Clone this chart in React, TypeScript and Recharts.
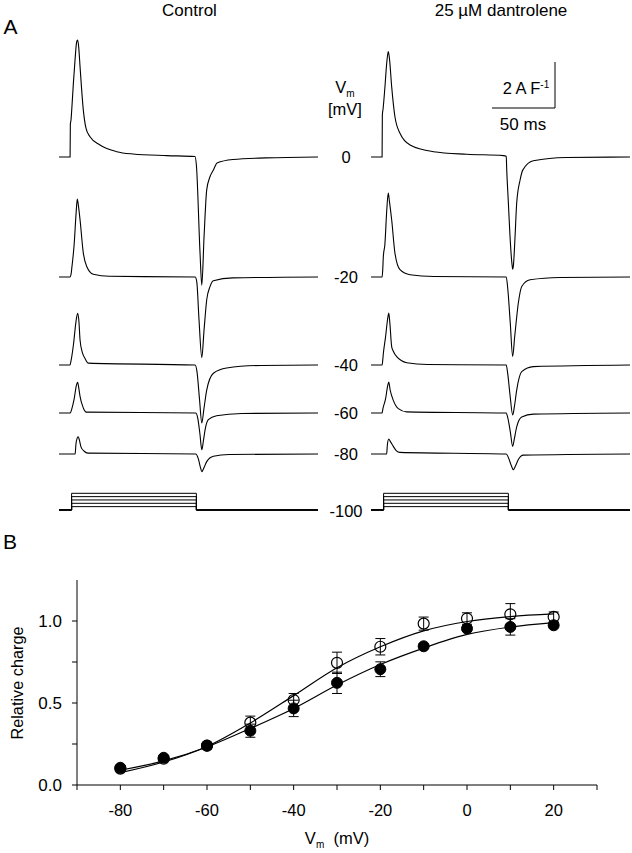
import React from 'react';
import { LineChart, Line, XAxis, YAxis, ReferenceLine, ComposedChart, Scatter, ErrorBar } from 'recharts';

// ---- Panel A: charge-movement currents (time in ms, current in A/F) ----
const STEP_POTENTIALS = [0, -20, -40, -60, -80];
const HOLDING_MV = -100;
const PULSE_ON_MS = 10;
const PULSE_OFF_MS = 109;
const SWEEP_END_MS = 205.5;

const CONTROL_TRACES: Record<number, number[][]> = {
  0: [[0, 0], [8.8, 0], [9.0, 1.43], [9.5, 1.6], [10.1, 2.04], [11.4, 3.2], [12.7, 4.2], [14.0, 5.0], [14.8, 5.09], [15.6, 4.8], [16.7, 3.93], [19.3, 2.04], [21.4, 1.26], [24.6, 0.88], [32.5, 0.52], [45.8, 0.23], [58.7, 0.13], [85.5, 0.06], [107.9, 0.02], [109, -0.35], [111.9, -4.17], [113.3, -5.57], [115.1, -3.46], [117.2, -1.43], [119.8, -0.86], [122.5, -0.57], [125.4, -0.26], [138, -0.11], [164, -0.04], [205.5, 0]],
  [-20]: [[0, 0], [8.7, 0], [9.5, 0.1], [10.3, 0.46], [12, 1.4], [13.6, 2.8], [14.5, 3.39], [15.4, 3.1], [16.7, 2.49], [19.3, 1.04], [22, 0.46], [27.2, 0.12], [40, 0.03], [108, 0], [109.3, -0.2], [111.1, -1.87], [113.3, -3.5], [115.1, -2.3], [117.2, -0.99], [119.8, -0.42], [122.5, -0.16], [138, -0.04], [205.5, 0]],
  [-40]: [[0, 0], [8.7, 0], [9.6, 0.2], [11.5, 0.9], [13.5, 1.9], [14.8, 2.25], [15.8, 1.9], [16.7, 1.09], [18.5, 0.55], [20.6, 0.29], [23.3, 0.08], [108, 0], [109.5, -0.3], [111.5, -1.5], [113.3, -2.52], [115, -1.9], [117.2, -1.09], [122.5, -0.36], [133, -0.13], [160, -0.02], [205.5, 0]],
  [-60]: [[0, 0], [8.9, 0], [10, 0.15], [12, 0.6], [13.8, 1.2], [14.8, 1.33], [15.8, 1.05], [16.7, 0.72], [19.3, 0.22], [21.6, 0.04], [108.5, 0], [110, -0.2], [111.8, -0.9], [113.3, -1.6], [114.6, -1.2], [115.9, -0.73], [118.5, -0.29], [125, -0.12], [145, -0.02], [205.5, 0]],
  [-80]: [[0, 0], [12.8, 0], [13.4, 0.4], [14.5, 0.7], [15.3, 0.75], [16.2, 0.6], [17.5, 0.3], [20, 0.12], [23, 0.04], [108.5, 0], [110.5, -0.2], [112.3, -0.6], [113.3, -0.77], [115, -0.6], [117.2, -0.33], [122.5, -0.1], [135, -0.02], [205.5, 0]],
};

const DANTROLENE_TRACES: Record<number, number[][]> = {
  0: [[0, 0], [8.8, 0], [9.0, 1.83], [9.6, 2.1], [11, 3.0], [12.5, 4.1], [13.7, 4.58], [14.6, 4.3], [16.4, 3.06], [19, 1.75], [23, 1.03], [31, 0.52], [49.5, 0.23], [76, 0.12], [105, 0.06], [107.3, 0.03], [107.7, -0.56], [109, -2.0], [110.3, -3.46], [112.1, -4.77], [112.4, -4.88], [112.9, -4.77], [114.3, -3.46], [115.6, -2.0], [118.3, -1.0], [120.4, -0.57], [128.8, -0.16], [155, -0.02], [205.5, 0]],
  [-20]: [[0, 0], [8.8, 0], [9.3, 0.3], [9.8, 0.9], [11, 1.4], [12.5, 2.9], [13.7, 3.65], [14.6, 3.3], [16.4, 2.49], [19, 1.04], [23, 0.32], [31, 0.1], [50, 0.02], [107.3, 0], [108.5, -0.5], [110.5, -2.0], [112.4, -3.45], [114, -2.6], [116.9, -1.13], [119.6, -0.41], [126.2, -0.12], [150, -0.02], [205.5, 0]],
  [-40]: [[0, 0], [8.8, 0], [9.3, 0.2], [9.8, 0.5], [11.5, 1.2], [13.2, 2.0], [14.1, 2.26], [15, 1.8], [16.4, 0.8], [17.7, 0.6], [20.4, 0.36], [28.3, 0.1], [45, 0.02], [107.3, 0], [108.3, -0.3], [110.3, -1.3], [112.4, -2.17], [113.8, -1.8], [115.6, -1.09], [119.6, -0.29], [128.8, -0.07], [205.5, 0]],
  [-60]: [[0, 0], [8.8, 0], [9.5, 0.2], [11.5, 0.6], [13.3, 1.2], [14.1, 1.35], [15.2, 1.0], [17.7, 0.55], [21.7, 0.19], [28.3, 0.05], [107.3, 0], [108.5, -0.2], [110.5, -0.8], [112.4, -1.45], [113.8, -1.1], [115.6, -0.6], [119.6, -0.17], [128.8, -0.05], [205.5, 0]],
  [-80]: [[0, 0], [12.4, 0], [13.0, 0.4], [14.1, 0.65], [15.3, 0.55], [17.7, 0.33], [20, 0.15], [23, 0.07], [107.3, 0], [109, -0.15], [111.3, -0.5], [112.9, -0.68], [114.8, -0.5], [116.9, -0.24], [120.9, -0.05], [205.5, 0]],
};

const SCALE_BAR_MS = 50;
const SCALE_BAR_AF = 2;

// ---- Panel B: relative charge vs Vm ----
const VM = [-80, -70, -60, -50, -40, -30, -20, -10, 0, 10, 20];
const OPEN_Q = [0.1, 0.16, 0.24, 0.38, 0.518, 0.745, 0.843, 0.984, 1.015, 1.041, 1.025];
const OPEN_SEM = [0.01, 0.01, 0.02, 0.04, 0.04, 0.065, 0.05, 0.04, 0.035, 0.065, 0.03];
const FILLED_Q = [0.105, 0.166, 0.24, 0.331, 0.467, 0.623, 0.706, 0.846, 0.954, 0.964, 0.974];
const FILLED_SEM = [0.01, 0.01, 0.015, 0.04, 0.05, 0.065, 0.045, 0.015, 0.015, 0.05, 0.015];
const OPEN_FIT = [0.075, 0.14, 0.235, 0.378, 0.545, 0.715, 0.843, 0.94, 0.997, 1.027, 1.043];
const FILLED_FIT = [0.09, 0.147, 0.232, 0.345, 0.467, 0.61, 0.735, 0.835, 0.918, 0.963, 0.99];

// ---- layout ----
const FONT = '"Liberation Sans", Arial, Helvetica, sans-serif';
const A_H = 530;
const COL_W = 259;
const PX_PER_AF = 23;
const PX_PER_MV = 0.1667;
const BASELINE_PX: Record<number, number> = { 0: 157, [-20]: 277, [-40]: 365, [-60]: 413, [-80]: 454 };
const CMD_ZERO_PX = 493.3;

const traceDomain = (b: number) => [-(A_H - b) / PX_PER_AF, b / PX_PER_AF];
const cmdDomain = [-(A_H - CMD_ZERO_PX) / PX_PER_MV, CMD_ZERO_PX / PX_PER_MV];
const toPoints = (pairs: number[][]) => pairs.map(([t, i]) => ({ t, i }));
const protocol = (v: number) => [
  { t: 0, mv: HOLDING_MV },
  { t: PULSE_ON_MS, mv: HOLDING_MV },
  { t: PULSE_ON_MS, mv: v },
  { t: PULSE_OFF_MS, mv: v },
  { t: PULSE_OFF_MS, mv: HOLDING_MV },
  { t: SWEEP_END_MS, mv: HOLDING_MV },
];

const Txt = ({ x, y, size = 16, children, rotate = 0 }: any) => (
  <div
    style={{
      position: 'absolute', left: x, top: y, fontSize: `${size}px`, lineHeight: 1, fontFamily: FONT,
      whiteSpace: 'nowrap', color: '#000',
      transform: `translate(-50%, -50%) rotate(${rotate}deg)`,
    }}
  >
    {children}
  </div>
);

const TraceColumn = ({ left, traces, scaleBar }: { left: number; traces: Record<number, number[][]>; scaleBar?: boolean }) => {
  const barT = 146;
  const barY = 2.13;
  return (
    <div style={{ position: 'absolute', left, top: 0 }}>
      <LineChart width={COL_W} height={A_H} margin={{ top: 0, right: 0, bottom: 0, left: 0 }}>
        <XAxis type="number" dataKey="t" domain={[0, SWEEP_END_MS]} hide allowDataOverflow />
        {STEP_POTENTIALS.map((v) => (
          <YAxis key={v} yAxisId={`v${v}`} type="number" domain={traceDomain(BASELINE_PX[v])} hide allowDataOverflow />
        ))}
        <YAxis yAxisId="cmd" type="number" domain={cmdDomain} hide allowDataOverflow />
        {STEP_POTENTIALS.map((v) => (
          <Line
            key={`p${v}`}
            yAxisId="cmd"
            data={protocol(v)}
            dataKey="mv"
            type="linear"
            stroke="#000"
            strokeWidth={1}
            dot={false}
            activeDot={false}
            isAnimationActive={false}
          />
        ))}
        {STEP_POTENTIALS.map((v) => (
          <Line
            key={v}
            yAxisId={`v${v}`}
            data={toPoints(traces[v])}
            dataKey="i"
            type="monotone"
            stroke="#000"
            strokeWidth={1.1}
            dot={false}
            activeDot={false}
            isAnimationActive={false}
          />
        ))}
        {scaleBar && (
          <ReferenceLine
            yAxisId="v0"
            segment={[{ x: barT - SCALE_BAR_MS, y: barY }, { x: barT, y: barY }]}
            stroke="#000"
            strokeWidth={1}
            ifOverflow="visible"
          />
        )}
        {scaleBar && (
          <ReferenceLine
            yAxisId="v0"
            segment={[{ x: barT, y: barY }, { x: barT, y: barY + SCALE_BAR_AF }]}
            stroke="#000"
            strokeWidth={1}
            ifOverflow="visible"
          />
        )}
      </LineChart>
    </div>
  );
};

const openData = VM.map((v, k) => ({ v, q: OPEN_Q[k], sem: OPEN_SEM[k] }));
const filledData = VM.map((v, k) => ({ v, q: FILLED_Q[k], sem: FILLED_SEM[k] }));
const openFit = VM.map((v, k) => ({ v, q: OPEN_FIT[k] }));
const filledFit = VM.map((v, k) => ({ v, q: FILLED_FIT[k] }));

const OpenDot = (p: any) => <circle cx={p.cx} cy={p.cy} r={5.5} fill="none" stroke="#000" strokeWidth={1.2} />;
const FilledDot = (p: any) => <circle cx={p.cx} cy={p.cy} r={5.5} fill="#000" stroke="#000" strokeWidth={1} />;

const xLabels = [-80, -60, -40, -20, 0, 20];
const fmtY = (v: number) => (v === 0 || v === 0.5 || v === 1 ? v.toFixed(1) : '');

export default function App() {
  return (
    <div style={{ position: 'absolute', left: 0, top: 0, width: 632, height: 853, background: '#fff', fontFamily: FONT, overflow: 'hidden' }}>
      <Txt x={10.5} y={25.5} size={21}>A</Txt>
      <Txt x={189.5} y={10} size={17}>Control</Txt>
      <Txt x={501} y={10} size={17}>25 µM dantrolene</Txt>

      <TraceColumn left={59} traces={CONTROL_TRACES} />
      <TraceColumn left={371} traces={DANTROLENE_TRACES} scaleBar />

      <Txt x={345} y={87} size={16.5}>
        V<span style={{ fontSize: '10px', position: 'relative', top: 4 }}>m</span>
      </Txt>
      <Txt x={345} y={109} size={16.5}>[mV]</Txt>
      {STEP_POTENTIALS.map((v) => (
        <Txt key={v} x={346} y={BASELINE_PX[v]} size={16.5}>{v}</Txt>
      ))}
      <Txt x={346} y={511} size={16.5}>{HOLDING_MV}</Txt>

      <Txt x={526} y={88} size={16.5}>
        2 A F<span style={{ fontSize: '10px', position: 'relative', top: -6 }}>-1</span>
      </Txt>
      <Txt x={523} y={124} size={17}>50 ms</Txt>

      <Txt x={10} y={540.5} size={21}>B</Txt>
      <Txt x={17} y={683} size={16.3} rotate={-90}>Relative charge</Txt>
      <Txt x={337} y={838} size={16.5}>
        V<span style={{ fontSize: '10px', position: 'relative', top: 4 }}>m</span>&nbsp;&nbsp;(mV)
      </Txt>

      <div style={{ position: 'absolute', left: 0, top: 540 }}>
        <ComposedChart width={632} height={313} margin={{ top: 40, right: 35, bottom: 18, left: 0 }}>
          <XAxis
            type="number"
            dataKey="v"
            domain={[-90, 30]}
            ticks={[-90, -80, -70, -60, -50, -40, -30, -20, -10, 0, 10, 20, 30]}
            tickFormatter={(v: number) => (xLabels.includes(v) ? String(v) : '')}
            height={50}
            tickSize={5}
            tickMargin={14}
            allowDataOverflow
            axisLine={{ stroke: '#000', strokeWidth: 1 }}
            tickLine={{ stroke: '#000', strokeWidth: 1 }}
            tick={{ fill: '#000', fontSize: 16.5, fontFamily: FONT }}
          />
          <YAxis
            type="number"
            domain={[0, 1.25]}
            ticks={[0, 0.25, 0.5, 0.75, 1]}
            tickFormatter={fmtY}
            width={77}
            tickSize={5}
            tickMargin={10}
            allowDataOverflow
            axisLine={{ stroke: '#000', strokeWidth: 1 }}
            tickLine={{ stroke: '#000', strokeWidth: 1 }}
            tick={{ fill: '#000', fontSize: 17, fontFamily: FONT }}
          />
          <Line data={openFit} dataKey="q" type="monotone" stroke="#000" strokeWidth={1.2} dot={false} activeDot={false} isAnimationActive={false} />
          <Line data={filledFit} dataKey="q" type="monotone" stroke="#000" strokeWidth={1.2} dot={false} activeDot={false} isAnimationActive={false} />
          <Scatter data={openData} dataKey="q" shape={OpenDot} isAnimationActive={false}>
            <ErrorBar dataKey="sem" direction="y" width={5} stroke="#000" strokeWidth={1} />
          </Scatter>
          <Scatter data={filledData} dataKey="q" shape={FilledDot} isAnimationActive={false}>
            <ErrorBar dataKey="sem" direction="y" width={5} stroke="#000" strokeWidth={1} />
          </Scatter>
        </ComposedChart>
      </div>
    </div>
  );
}
